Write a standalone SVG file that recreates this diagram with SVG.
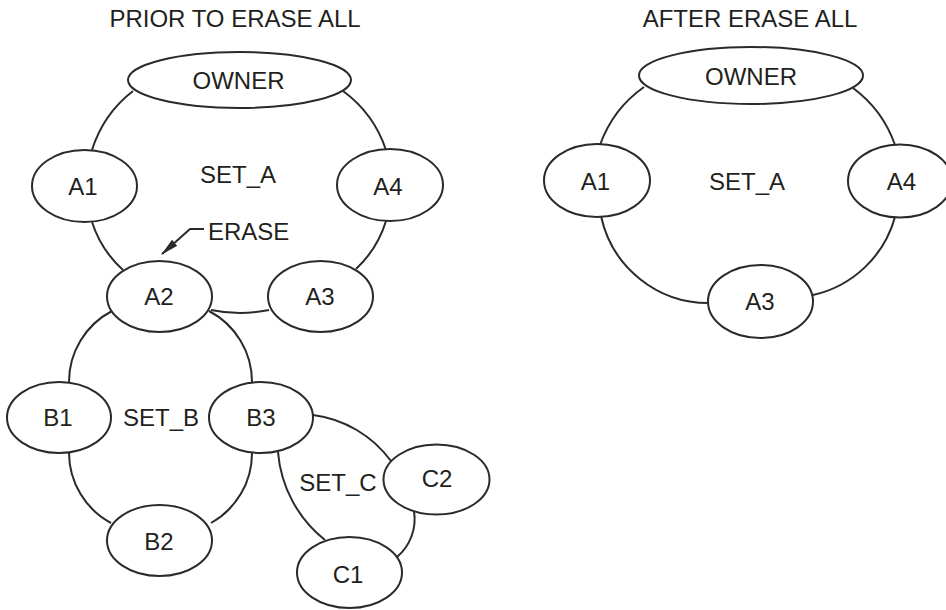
<svg xmlns="http://www.w3.org/2000/svg" width="946" height="610" viewBox="0 0 946 610">
<defs>
<style>
.n{fill:#fff;stroke:#2a2a2a;stroke-width:2}
.c{fill:none;stroke:#2a2a2a;stroke-width:2}
text{font-family:"Liberation Sans",Arial,sans-serif;font-size:24px;fill:#231f20;text-anchor:middle}
</style>
<marker id="ah" viewBox="0 0 18 10" refX="17" refY="5" markerWidth="18" markerHeight="10" markerUnits="userSpaceOnUse" orient="auto">
<path d="M0,1 L18,5 L0,9 Z" fill="#2a2a2a"/>
</marker>
</defs>
<rect width="946" height="610" fill="#fff"/>
<text x="235" y="27">PRIOR TO ERASE ALL</text>
<text x="750" y="27">AFTER ERASE ALL</text>
<g id="connectors">
<path class="c" d="M133,91 A120,120 0 0 0 92,150"/>
<path class="c" d="M92,222 A110,110 0 0 0 123,270"/>
<path class="c" d="M343,91 A120,120 0 0 1 386,150"/>
<path class="c" d="M386,221 A110,110 0 0 1 356,269"/>
<path class="c" d="M211,310 Q240,316 269,310"/>
<path class="c" d="M112,311 A80,80 0 0 0 69,382"/>
<path class="c" d="M209,311 A80,80 0 0 1 252,382"/>
<path class="c" d="M69,453 A80,80 0 0 0 111,523"/>
<path class="c" d="M252,453 A80,80 0 0 1 211,523"/>
<path class="c" d="M313,415 A115,115 0 0 1 391,461"/>
<path class="c" d="M278,452 A125,125 0 0 0 325,540"/>
<path class="c" d="M414,511 A50,50 0 0 1 397,557"/>
<path class="c" d="M644,87 A120,120 0 0 0 600,145"/>
<path class="c" d="M601,216 A110,110 0 0 0 709,303"/>
<path class="c" d="M853,88 A120,120 0 0 1 895,145"/>
<path class="c" d="M895,217 A110,110 0 0 1 813,295"/>
<path class="c" d="M204,229 L190,229 L162,254" marker-end="url(#ah)"/>
</g>
<g id="owner_l"><ellipse class="n" cx="239.5" cy="80" rx="111.5" ry="28"/><text x="238.5" y="89">OWNER</text></g>
<text id="setA_l" x="238" y="183">SET_A</text>
<text id="erase" x="208" y="240" style="text-anchor:start">ERASE</text>
<g id="a1_l"><ellipse class="n" cx="84.5" cy="186" rx="52.5" ry="36"/><text x="83" y="195">A1</text></g>
<g id="a4_l"><ellipse class="n" cx="390" cy="185" rx="53" ry="36"/><text x="388" y="195">A4</text></g>
<g id="a2_l"><ellipse class="n" cx="159.5" cy="296.5" rx="52.5" ry="35.5"/><text x="159" y="305">A2</text></g>
<g id="a3_l"><ellipse class="n" cx="320.5" cy="296.5" rx="52.5" ry="35.5"/><text x="320" y="305">A3</text></g>
<g id="b1"><ellipse class="n" cx="59" cy="417.5" rx="52" ry="35.5"/><text x="58" y="426">B1</text></g>
<text id="setB" x="161" y="426">SET_B</text>
<g id="b3"><ellipse class="n" cx="261" cy="417.5" rx="52" ry="35.5"/><text x="261" y="426">B3</text></g>
<g id="b2"><ellipse class="n" cx="159.5" cy="540.5" rx="52.5" ry="35.5"/><text x="159" y="550">B2</text></g>
<text id="setC" x="338" y="491">SET_C</text>
<g id="c2"><ellipse class="n" cx="436.5" cy="479.5" rx="53" ry="35"/><text x="437" y="487">C2</text></g>
<g id="c1"><ellipse class="n" cx="349.5" cy="572.5" rx="52.5" ry="35.5"/><text x="348" y="583">C1</text></g>
<g id="owner_r"><ellipse class="n" cx="751" cy="75.5" rx="112" ry="28.5"/><text x="751" y="85">OWNER</text></g>
<text id="setA_r" x="747" y="190">SET_A</text>
<g id="a1_r"><ellipse class="n" cx="597" cy="180.5" rx="53" ry="36.5"/><text x="595.5" y="190">A1</text></g>
<g id="a4_r"><ellipse class="n" cx="900" cy="181" rx="52" ry="36.5"/><text x="901.5" y="190">A4</text></g>
<g id="a3_r"><ellipse class="n" cx="760.5" cy="301.5" rx="52.5" ry="36.5"/><text x="760" y="310">A3</text></g>
</svg>
